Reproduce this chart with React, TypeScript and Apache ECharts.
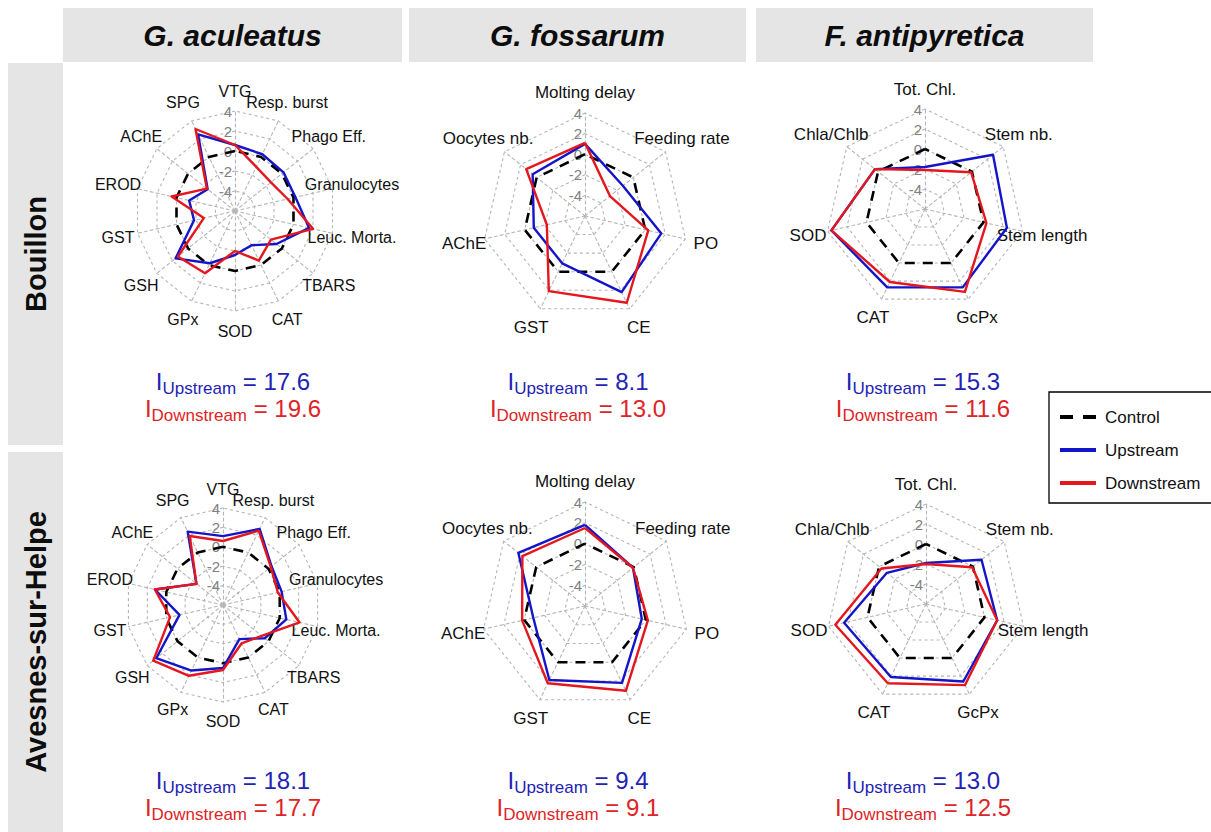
import React, { useEffect, useRef } from "react";
import * as echarts from "echarts";

const FONT = "'Liberation Sans', Arial, sans-serif";

const SPECIES = ["G. aculeatus", "G. fossarum", "F. antipyretica"];
const SITES = ["Bouillon", "Avesnes-sur-Helpe"];
const GROUPS = ["Control", "Upstream", "Downstream"];
const RING_TICKS_MIN = -6;
const RING_TICKS_MAX = 4;
const RING_TICKS_STEP = 2;

// axes, counter-clockwise from the top
const aculeatusAxes = ["VTG", "SPG", "AChE", "EROD", "GST", "GSH", "GPx", "SOD", "CAT", "TBARS", "Leuc. Morta.", "Granulocytes", "Phago Eff.", "Resp. burst"];
const fossarumAxes = ["Molting delay", "Oocytes nb.", "AChE", "GST", "CE", "PO", "Feeding rate"];
const antipyreticaAxes = ["Tot. Chl.", "Chla/Chlb", "SOD", "CAT", "GcPx", "Stem length", "Stem nb."];

// Bouillon
const aculeatusBouillonControl = [0, 0, 0, 0, 0, 0, 0, 0, 0, 0, 0, 0, 0, 0];
const aculeatusBouillonUp = [0.6, 2.5, -2.5, -1.3, -1.8, 1.6, -0.2, -1.6, -2.2, -0.7, 1.6, 0.2, 0.2, 0.3];
const aculeatusBouillonDown = [0.6, 3.1, -2.4, 0.5, -2.8, 1.3, 0.9, -2.0, -0.5, -1.4, 2.0, -0.6, -1.4, -1.1];
const fossarumBouillonControl = [0, 0, 0, 0, 0, 0, 0];
const fossarumBouillonUp = [1.0, 0.5, -0.9, -0.9, 2.2, 1.6, -1.3];
const fossarumBouillonDown = [1.1, 1.3, -2.2, 2.1, 3.35, 0.3, -2.9];
const antipyreticaBouillonControl = [0, 0, 0, 0, 0, 0, 0];
const antipyreticaBouillonUp = [-1.8, 0.4, 3.6, 2.7, 2.7, 2.4, 2.7];
const antipyreticaBouillonDown = [-2.1, 0.4, 3.6, 2.1, 3.2, 0.3, -0.1];

// Avesnes-sur-Helpe
const aculeatusAvesnesControl = [0, 0, 0, 0, 0, 0, 0, 0, 0, 0, 0, 0, 0, 0];
const aculeatusAvesnesUp = [1.1, 2.4, -2.5, 1.2, -1.4, 2.8, 1.5, 0.5, -2.1, -0.5, 0.7, 0.2, 0.4, 2.7];
const aculeatusAvesnesDown = [0.6, 1.9, -2.5, 1.2, -0.4, 3.2, 2.1, 0.7, -1.6, -0.9, 2.1, -0.2, 0.3, 2.5];
const fossarumAvesnesControl = [0, 0, 0, 0, 0, 0, 0];
const fossarumAvesnesUp = [1.8, 2.2, -0.9, 1.9, 2.2, -0.4, -0.1];
const fossarumAvesnesDown = [1.5, 1.7, 0.2, 2.25, 3.05, 0.2, -0.1];
const antipyreticaAvesnesControl = [0, 0, 0, 0, 0, 0, 0];
const antipyreticaAvesnesUp = [-1.9, -1.0, 2.4, 2.1, 2.6, 1.3, 1.1];
const antipyreticaAvesnesDown = [-2.0, -0.3, 3.3, 2.8, 3.0, 1.3, -0.1];

// index values I (Upstream, Downstream)
const indexUpstream = [["17.6", "8.1", "15.3"], ["18.1", "9.4", "13.0"]];
const indexDownstream = [["19.6", "13.0", "11.6"], ["17.7", "9.1", "12.5"]];

const AXES = [aculeatusAxes, fossarumAxes, antipyreticaAxes];
const DATA = [
  [
    [aculeatusBouillonControl, aculeatusBouillonUp, aculeatusBouillonDown],
    [fossarumBouillonControl, fossarumBouillonUp, fossarumBouillonDown],
    [antipyreticaBouillonControl, antipyreticaBouillonUp, antipyreticaBouillonDown],
  ],
  [
    [aculeatusAvesnesControl, aculeatusAvesnesUp, aculeatusAvesnesDown],
    [fossarumAvesnesControl, fossarumAvesnesUp, fossarumAvesnesDown],
    [antipyreticaAvesnesControl, antipyreticaAvesnesUp, antipyreticaAvesnesDown],
  ],
];

// layout (pixels)
const PANEL_CENTERS = [
  [[235, 211], [585, 216], [925, 209]],
  [[223, 605], [585, 606], [926, 604]],
];
const PANEL_RADII = [
  [100, 103, 100],
  [97, 104, 100],
];
const NAME_FONT_SIZES = [16, 17, 17];
const COL_BOXES = [[63, 402], [409, 746], [756, 1093]];
const ROW_BOXES = [[63, 445], [452, 832]];
const TEXT_CENTERS = [233, 578, 923];
const TEXT_TOPS = [[369, 396], [768, 795]];

const LINE_COLORS = ["#000000", "#1414C8", "#E4161E"];
const TEXT_BLUE = "#2323B2";
const TEXT_RED = "#DD2427";
const STRIP = "#E5E5E5";
const GRID_GREY = "#B5B5B5";

export default function App() {
  const ref = useRef<HTMLDivElement>(null);
  useEffect(() => {
    if (!ref.current) return;
    const chart = echarts.init(ref.current, null, { renderer: "svg" });

    const radars: any[] = [];
    const polars: any[] = [];
    const angleAxes: any[] = [];
    const radiusAxes: any[] = [];
    const series: any[] = [];

    for (let r = 0; r < 2; r++) {
      for (let c = 0; c < 3; c++) {
        const idx = r * 3 + c;
        const R = PANEL_RADII[r][c];
        const center = PANEL_CENTERS[r][c];
        radars.push({
          center,
          radius: R,
          startAngle: 90,
          shape: "polygon",
          splitNumber: 5,
          axisNameGap: Math.round(R * 0.2),
          axisName: { color: "#111", fontSize: NAME_FONT_SIZES[c], fontFamily: FONT, align: "center", verticalAlign: "middle" },
          axisLine: { lineStyle: { color: GRID_GREY, type: [3, 3], width: 1.1 } },
          splitLine: { lineStyle: { color: GRID_GREY, type: [3, 3], width: 1.1 } },
          splitArea: { show: false },
          axisLabel: { show: false },
          axisTick: { show: false },
          indicator: AXES[c].map((name) => ({ name, min: RING_TICKS_MIN, max: RING_TICKS_MAX })),
        });
        polars.push({ center, radius: R });
        angleAxes.push({ polarIndex: idx, show: false, min: 0, max: 360, startAngle: 90 });
        radiusAxes.push({
          polarIndex: idx,
          min: RING_TICKS_MIN,
          max: RING_TICKS_MAX,
          interval: RING_TICKS_STEP,
          axisLine: { show: false },
          axisTick: { show: false },
          splitLine: { show: false },
          axisLabel: {
            color: "#808080",
            fontSize: 15,
            fontFamily: FONT,
            margin: 3,
            formatter: (v: number) => (v === RING_TICKS_MIN ? "" : String(v)),
          },
          z: 1,
        });
        GROUPS.forEach((g, gi) => {
          series.push({
            type: "radar",
            name: g,
            radarIndex: idx,
            symbol: "none",
            silent: true,
            z: 2 + gi,
            itemStyle: { color: LINE_COLORS[gi] },
            lineStyle: {
              color: LINE_COLORS[gi],
              width: gi === 0 ? 2.6 : 2.4,
              type: gi === 0 ? [10, 8] : "solid",
            },
            data: [{ value: DATA[r][c][gi] }],
          });
        });
      }
    }

    const graphic: any[] = [];
    COL_BOXES.forEach(([x0, x1], c) => {
      graphic.push({ type: "rect", shape: { x: x0, y: 8, width: x1 - x0, height: 54 }, style: { fill: STRIP }, silent: true });
      graphic.push({
        type: "text",
        x: (x0 + x1) / 2,
        y: 35,
        style: { text: SPECIES[c], fill: "#0d0d0d", font: `italic bold 30px ${FONT}`, align: "center", verticalAlign: "middle" },
        silent: true,
      });
    });
    ROW_BOXES.forEach(([y0, y1], r) => {
      graphic.push({ type: "rect", shape: { x: 8, y: y0, width: 55, height: y1 - y0 }, style: { fill: STRIP }, silent: true });
      graphic.push({
        type: "text",
        x: 36,
        y: (y0 + y1) / 2,
        rotation: Math.PI / 2,
        style: { text: SITES[r], fill: "#0d0d0d", font: `bold 29px ${FONT}`, align: "center", verticalAlign: "middle" },
        silent: true,
      });
    });
    const rich = (color: string) => ({
      m: { fontSize: 24, lineHeight: 28, verticalAlign: "top", fill: color, fontFamily: FONT },
      s: { fontSize: 17, lineHeight: 12, verticalAlign: "bottom", fill: color, fontFamily: FONT },
    });
    for (let r = 0; r < 2; r++) {
      for (let c = 0; c < 3; c++) {
        graphic.push({
          type: "text",
          x: TEXT_CENTERS[c],
          y: TEXT_TOPS[r][0],
          silent: true,
          style: { text: `{m|I}{s|Upstream}{m| = ${indexUpstream[r][c]}}`, align: "center", verticalAlign: "top", rich: rich(TEXT_BLUE) },
        });
        graphic.push({
          type: "text",
          x: TEXT_CENTERS[c],
          y: TEXT_TOPS[r][1],
          silent: true,
          style: { text: `{m|I}{s|Downstream}{m| = ${indexDownstream[r][c]}}`, align: "center", verticalAlign: "top", rich: rich(TEXT_RED) },
        });
      }
    }

    chart.setOption({
      animation: false,
      backgroundColor: "#ffffff",
      textStyle: { fontFamily: FONT },
      radar: radars,
      polar: polars,
      angleAxis: angleAxes,
      radiusAxis: radiusAxes,
      legend: {
        orient: "vertical",
        left: 1049,
        top: 392,
        selectedMode: false,
        data: [
          { name: "Control", icon: "path://M0,0H13V4H0Z M23,0H36V4H23Z" },
          { name: "Upstream", icon: "rect" },
          { name: "Downstream", icon: "rect" },
        ],
        itemWidth: 36,
        itemHeight: 4,
        itemGap: 13,
        padding: [15, 13, 10, 11],
        borderColor: "#000",
        borderWidth: 1.3,
        textStyle: { fontSize: 17, color: "#111", fontFamily: FONT, lineHeight: 20, padding: [0, 0, 0, 4] },
      },
      graphic,
      series,
    });
    return () => chart.dispose();
  }, []);
  return <div ref={ref} style={{ position: "fixed", left: 0, top: 0, width: 1211, height: 832 }} />;
}
